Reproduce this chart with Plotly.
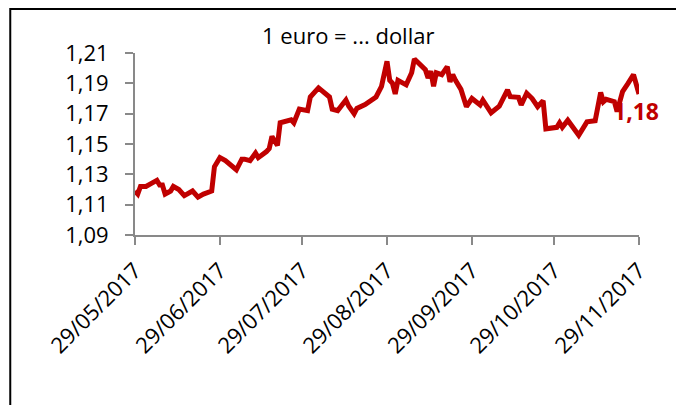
import plotly.graph_objects as go

dates = [
    "2017-05-29", "2017-05-30", "2017-05-31", "2017-06-02", "2017-06-04", "2017-06-06",
    "2017-06-07", "2017-06-08", "2017-06-09", "2017-06-11", "2017-06-12", "2017-06-14",
    "2017-06-16", "2017-06-17", "2017-06-19", "2017-06-21", "2017-06-23", "2017-06-26",
    "2017-06-27", "2017-06-29", "2017-07-01", "2017-07-05", "2017-07-07", "2017-07-08",
    "2017-07-10", "2017-07-12", "2017-07-13", "2017-07-16", "2017-07-17", "2017-07-18",
    "2017-07-20", "2017-07-21", "2017-07-23", "2017-07-25", "2017-07-26", "2017-07-28",
    "2017-07-31", "2017-08-01", "2017-08-04", "2017-08-06", "2017-08-08", "2017-08-09",
    "2017-08-11", "2017-08-14", "2017-08-15", "2017-08-17", "2017-08-18", "2017-08-21",
    "2017-08-23", "2017-08-25", "2017-08-27", "2017-08-28", "2017-08-29", "2017-08-30",
    "2017-08-31", "2017-09-01", "2017-09-02", "2017-09-05", "2017-09-07", "2017-09-08",
    "2017-09-12", "2017-09-13", "2017-09-14", "2017-09-15", "2017-09-16", "2017-09-18",
    "2017-09-20", "2017-09-21", "2017-09-22", "2017-09-23", "2017-09-25", "2017-09-27",
    "2017-09-29", "2017-10-02", "2017-10-03", "2017-10-06", "2017-10-09", "2017-10-12",
    "2017-10-13", "2017-10-16", "2017-10-17", "2017-10-19", "2017-10-21", "2017-10-23",
    "2017-10-25", "2017-10-26", "2017-10-30", "2017-10-31", "2017-11-01", "2017-11-03",
    "2017-11-07", "2017-11-10", "2017-11-13", "2017-11-15", "2017-11-16", "2017-11-17",
    "2017-11-20", "2017-11-21", "2017-11-23", "2017-11-25", "2017-11-27", "2017-11-29",
]
eur_usd = [
    1.119, 1.117, 1.122, 1.122, 1.124, 1.126,
    1.123, 1.123, 1.117, 1.119, 1.122, 1.120,
    1.116, 1.117, 1.119, 1.115, 1.117, 1.119,
    1.135, 1.141, 1.139, 1.133, 1.140, 1.140,
    1.139, 1.144, 1.141, 1.145, 1.147, 1.155,
    1.149, 1.164, 1.165, 1.166, 1.164, 1.173,
    1.172, 1.181, 1.187, 1.1835, 1.181, 1.173,
    1.172, 1.179, 1.175, 1.170, 1.1735, 1.176,
    1.179, 1.181, 1.188, 1.195, 1.2045, 1.192,
    1.190, 1.183, 1.192, 1.189, 1.197, 1.206,
    1.199, 1.1935, 1.198, 1.188, 1.197, 1.1957,
    1.201, 1.191, 1.1957, 1.192, 1.186, 1.1746,
    1.180, 1.1757, 1.179, 1.1706, 1.175, 1.1857,
    1.1812, 1.1808, 1.1757, 1.1835, 1.180, 1.1746,
    1.1786, 1.160, 1.161, 1.164, 1.161, 1.1657,
    1.1558, 1.1646, 1.1653, 1.184, 1.1779, 1.1795,
    1.1779, 1.1713, 1.1846, 1.190, 1.1957, 1.183,
]
tick_dates = ["2017-05-29", "2017-06-29", "2017-07-29", "2017-08-29",
              "2017-09-29", "2017-10-29", "2017-11-29"]
tick_labels = ["29/05/2017", "29/06/2017", "29/07/2017", "29/08/2017",
               "29/09/2017", "29/10/2017", "29/11/2017"]
y_ticks = [1.09, 1.11, 1.13, 1.15, 1.17, 1.19, 1.21]
title_text = "1 euro = ... dollar"
end_label = "1,18"

RED = "#C00000"
AXIS = "#898989"
FONT = "Open Sans"

fig = go.Figure()
fig.add_trace(go.Scatter(
    x=dates, y=eur_usd, mode="lines",
    line=dict(color=RED, width=5),
    hoverinfo="skip", showlegend=False,
))

fig.add_annotation(
    x=dates[-1], y=eur_usd[-1], xref="x", yref="y",
    text="<b>" + end_label + "</b>", showarrow=False,
    xanchor="center", yanchor="middle", xshift=-3, yshift=-17,
    font=dict(family=FONT, size=23, color=RED),
)
fig.add_annotation(
    x=0.4226, y=1.10, xref="paper", yref="paper",
    text=title_text, showarrow=False,
    xanchor="center", yanchor="middle",
    font=dict(family=FONT, size=22, color="#000000"),
)

# outer chart border (left and top visible in the frame)
fig.add_shape(type="rect", xref="paper", yref="paper",
              x0=-0.2475, x1=1.2, y0=-1.2, y1=1.2418,
              line=dict(color="#000000", width=2), layer="below")

fig.update_layout(
    width=676, height=397,
    margin=dict(l=127, r=45, t=45, b=170),
    paper_bgcolor="white", plot_bgcolor="white",
    separators=", ",
    font=dict(family=FONT, size=22, color="#000000"),
    xaxis=dict(
        type="date",
        range=["2017-05-29", "2017-11-29"],
        tickvals=tick_dates, ticktext=tick_labels,
        tickangle=-45,
        showgrid=False, zeroline=False,
        showline=True, linecolor=AXIS, linewidth=2,
        ticks="outside", ticklen=8, tickcolor=AXIS, tickwidth=2,
        ticklabelstandoff=4,
        tickfont=dict(family=FONT, size=22, color="#000000"),
    ),
    yaxis=dict(
        range=[1.09, 1.21],
        tickvals=y_ticks, tickformat=".2f",
        showgrid=False, zeroline=False,
        showline=True, linecolor=AXIS, linewidth=2,
        ticks="outside", ticklen=8, tickcolor=AXIS, tickwidth=2,
        ticklabelstandoff=12,
        tickfont=dict(family=FONT, size=22, color="#000000"),
    ),
)

fig.write_html("out.html")
